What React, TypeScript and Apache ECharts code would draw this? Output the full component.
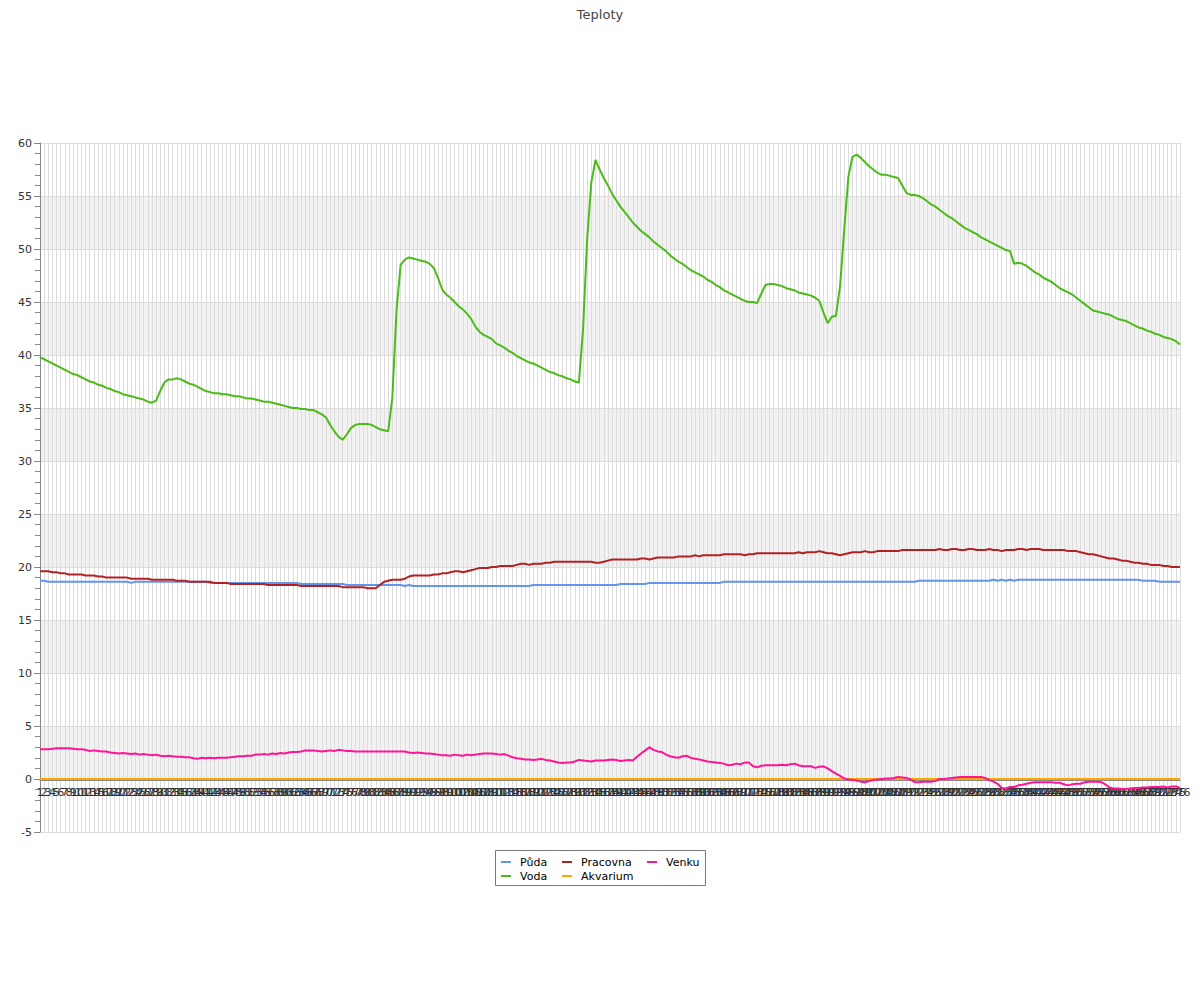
import React, { useEffect, useRef } from "react";
import * as echarts from "echarts";

const categories: string[] = Array.from({ length: 276 }, (_, i) => String(i + 1));

const puda: number[] = [
  18.7, 18.7, 18.6, 18.6, 18.6, 18.6, 18.6, 18.6, 18.6, 18.6,
  18.6, 18.6, 18.6, 18.6, 18.6, 18.6, 18.6, 18.6, 18.6, 18.6,
  18.6, 18.6, 18.5, 18.6, 18.6, 18.6, 18.6, 18.6, 18.6, 18.6,
  18.6, 18.6, 18.6, 18.6, 18.6, 18.6, 18.6, 18.6, 18.6, 18.6,
  18.6, 18.5, 18.5, 18.5, 18.5, 18.5, 18.5, 18.5, 18.5, 18.5,
  18.5, 18.5, 18.5, 18.5, 18.5, 18.5, 18.5, 18.5, 18.5, 18.5,
  18.5, 18.5, 18.5, 18.4, 18.4, 18.4, 18.4, 18.4, 18.4, 18.4,
  18.4, 18.4, 18.4, 18.4, 18.3, 18.3, 18.3, 18.3, 18.3, 18.3,
  18.3, 18.3, 18.3, 18.3, 18.3, 18.3, 18.3, 18.3, 18.2, 18.3,
  18.2, 18.2, 18.2, 18.2, 18.2, 18.2, 18.2, 18.2, 18.2, 18.2,
  18.2, 18.2, 18.2, 18.2, 18.2, 18.2, 18.2, 18.2, 18.2, 18.2,
  18.2, 18.2, 18.2, 18.2, 18.2, 18.2, 18.2, 18.2, 18.2, 18.3,
  18.3, 18.3, 18.3, 18.3, 18.3, 18.3, 18.3, 18.3, 18.3, 18.3,
  18.3, 18.3, 18.3, 18.3, 18.3, 18.3, 18.3, 18.3, 18.3, 18.3,
  18.4, 18.4, 18.4, 18.4, 18.4, 18.4, 18.4, 18.5, 18.5, 18.5,
  18.5, 18.5, 18.5, 18.5, 18.5, 18.5, 18.5, 18.5, 18.5, 18.5,
  18.5, 18.5, 18.5, 18.5, 18.5, 18.6, 18.6, 18.6, 18.6, 18.6,
  18.6, 18.6, 18.6, 18.6, 18.6, 18.6, 18.6, 18.6, 18.6, 18.6,
  18.6, 18.6, 18.6, 18.6, 18.6, 18.6, 18.6, 18.6, 18.6, 18.6,
  18.6, 18.6, 18.6, 18.6, 18.6, 18.6, 18.6, 18.6, 18.6, 18.6,
  18.6, 18.6, 18.6, 18.6, 18.6, 18.6, 18.6, 18.6, 18.6, 18.6,
  18.6, 18.6, 18.7, 18.7, 18.7, 18.7, 18.7, 18.7, 18.7, 18.7,
  18.7, 18.7, 18.7, 18.7, 18.7, 18.7, 18.7, 18.7, 18.7, 18.7,
  18.8, 18.7, 18.8, 18.7, 18.8, 18.7, 18.8, 18.8, 18.8, 18.8,
  18.8, 18.8, 18.8, 18.8, 18.8, 18.8, 18.8, 18.8, 18.8, 18.8,
  18.8, 18.8, 18.8, 18.8, 18.8, 18.8, 18.8, 18.8, 18.8, 18.8,
  18.8, 18.8, 18.8, 18.8, 18.8, 18.8, 18.7, 18.7, 18.7, 18.7,
  18.6, 18.6, 18.6, 18.6, 18.6, 18.6,
];

const voda: number[] = [
  39.8, 39.6, 39.4, 39.2, 39.0, 38.8, 38.6, 38.4, 38.2, 38.1,
  37.9, 37.7, 37.5, 37.4, 37.2, 37.1, 36.9, 36.8, 36.6, 36.5,
  36.3, 36.2, 36.1, 36.0, 35.9, 35.8, 35.6, 35.5, 35.7, 36.6,
  37.4, 37.7, 37.7, 37.8, 37.7, 37.5, 37.3, 37.2, 37.0, 36.8,
  36.6, 36.5, 36.4, 36.4, 36.3, 36.3, 36.2, 36.1, 36.1, 36.0,
  35.9, 35.9, 35.8, 35.7, 35.6, 35.6, 35.5, 35.4, 35.3, 35.2,
  35.1, 35.0, 35.0, 34.9, 34.9, 34.8, 34.8, 34.6, 34.4, 34.1,
  33.4, 32.8, 32.3, 32.0, 32.5, 33.1, 33.4, 33.5, 33.5, 33.5,
  33.4, 33.2, 33.0, 32.9, 32.8, 36.0, 44.2, 48.5, 49.0, 49.2,
  49.1, 49.0, 48.9, 48.8, 48.6, 48.2, 47.3, 46.2, 45.7, 45.4,
  45.0, 44.6, 44.3, 43.9, 43.4, 42.7, 42.2, 41.9, 41.7, 41.5,
  41.1, 40.9, 40.7, 40.4, 40.2, 39.9, 39.7, 39.5, 39.3, 39.2,
  39.0, 38.8, 38.6, 38.4, 38.3, 38.1, 38.0, 37.8, 37.7, 37.5,
  37.4, 42.4, 51.0, 56.3, 58.4, 57.5, 56.7, 56.0, 55.2, 54.6,
  54.0, 53.5, 53.0, 52.5, 52.1, 51.7, 51.4, 51.1, 50.7, 50.4,
  50.1, 49.8, 49.4, 49.1, 48.8, 48.6, 48.3, 48.0, 47.8, 47.6,
  47.4, 47.1, 46.9, 46.6, 46.4, 46.1, 45.9, 45.7, 45.5, 45.3,
  45.1, 45.0, 45.0, 44.9, 45.8, 46.6, 46.7, 46.7, 46.6, 46.5,
  46.3, 46.2, 46.1, 45.9, 45.8, 45.7, 45.6, 45.4, 45.1, 44.0,
  43.0, 43.6, 43.7, 46.5, 51.8, 56.8, 58.7, 58.9, 58.6, 58.2,
  57.8, 57.5, 57.2, 57.0, 57.0, 56.9, 56.8, 56.7, 56.0, 55.3,
  55.1, 55.1, 55.0, 54.8, 54.5, 54.2, 54.0, 53.7, 53.4, 53.1,
  52.9, 52.6, 52.3, 52.0, 51.8, 51.6, 51.4, 51.1, 50.9, 50.7,
  50.5, 50.3, 50.1, 49.9, 49.8, 48.6, 48.7, 48.6, 48.4, 48.1,
  47.8, 47.6, 47.3, 47.1, 46.9, 46.6, 46.3, 46.1, 45.9, 45.7,
  45.4, 45.1, 44.8, 44.5, 44.2, 44.1, 44.0, 43.9, 43.8, 43.6,
  43.4, 43.3, 43.2, 43.0, 42.8, 42.6, 42.5, 42.3, 42.2, 42.0,
  41.9, 41.7, 41.6, 41.5, 41.3, 41.0,
];

const pracovna: number[] = [
  19.6, 19.6, 19.6, 19.5, 19.5, 19.4, 19.4, 19.3, 19.3, 19.3,
  19.3, 19.2, 19.2, 19.2, 19.1, 19.1, 19.0, 19.0, 19.0, 19.0,
  19.0, 19.0, 18.9, 18.9, 18.9, 18.9, 18.9, 18.8, 18.8, 18.8,
  18.8, 18.8, 18.8, 18.7, 18.7, 18.7, 18.6, 18.6, 18.6, 18.6,
  18.6, 18.6, 18.5, 18.5, 18.5, 18.5, 18.4, 18.4, 18.4, 18.4,
  18.4, 18.4, 18.4, 18.4, 18.4, 18.3, 18.3, 18.3, 18.3, 18.3,
  18.3, 18.3, 18.3, 18.2, 18.2, 18.2, 18.2, 18.2, 18.2, 18.2,
  18.2, 18.2, 18.2, 18.1, 18.1, 18.1, 18.1, 18.1, 18.1, 18.0,
  18.0, 18.0, 18.3, 18.6, 18.7, 18.8, 18.8, 18.8, 18.9, 19.1,
  19.2, 19.2, 19.2, 19.2, 19.2, 19.3, 19.3, 19.4, 19.4, 19.5,
  19.6, 19.6, 19.5, 19.6, 19.7, 19.8, 19.9, 19.9, 19.9, 20.0,
  20.0, 20.1, 20.1, 20.1, 20.1, 20.2, 20.3, 20.3, 20.2, 20.3,
  20.3, 20.3, 20.4, 20.4, 20.5, 20.5, 20.5, 20.5, 20.5, 20.5,
  20.5, 20.5, 20.5, 20.5, 20.4, 20.4, 20.5, 20.6, 20.7, 20.7,
  20.7, 20.7, 20.7, 20.7, 20.7, 20.8, 20.8, 20.7, 20.8, 20.9,
  20.9, 20.9, 20.9, 20.9, 21.0, 21.0, 21.0, 21.0, 21.1, 21.0,
  21.1, 21.1, 21.1, 21.1, 21.1, 21.2, 21.2, 21.2, 21.2, 21.2,
  21.1, 21.2, 21.2, 21.3, 21.3, 21.3, 21.3, 21.3, 21.3, 21.3,
  21.3, 21.3, 21.3, 21.4, 21.3, 21.4, 21.4, 21.4, 21.5, 21.4,
  21.3, 21.3, 21.2, 21.1, 21.2, 21.3, 21.4, 21.4, 21.4, 21.5,
  21.4, 21.4, 21.5, 21.5, 21.5, 21.5, 21.5, 21.5, 21.6, 21.6,
  21.6, 21.6, 21.6, 21.6, 21.6, 21.6, 21.6, 21.7, 21.6, 21.6,
  21.7, 21.7, 21.6, 21.6, 21.7, 21.7, 21.6, 21.6, 21.6, 21.7,
  21.6, 21.6, 21.5, 21.6, 21.6, 21.6, 21.7, 21.7, 21.6, 21.7,
  21.7, 21.7, 21.6, 21.6, 21.6, 21.6, 21.6, 21.6, 21.5, 21.5,
  21.5, 21.4, 21.3, 21.2, 21.2, 21.1, 21.0, 20.9, 20.8, 20.8,
  20.7, 20.6, 20.6, 20.5, 20.4, 20.4, 20.3, 20.3, 20.2, 20.2,
  20.2, 20.1, 20.1, 20.0, 20.0, 20.0,
];

const akvarium: number[] = [
  0, 0, 0, 0, 0, 0, 0, 0, 0, 0, 0, 0, 0, 0, 0, 0, 0, 0, 0, 0,
  0, 0, 0, 0, 0, 0, 0, 0, 0, 0, 0, 0, 0, 0, 0, 0, 0, 0, 0, 0,
  0, 0, 0, 0, 0, 0, 0, 0, 0, 0, 0, 0, 0, 0, 0, 0, 0, 0, 0, 0,
  0, 0, 0, 0, 0, 0, 0, 0, 0, 0, 0, 0, 0, 0, 0, 0, 0, 0, 0, 0,
  0, 0, 0, 0, 0, 0, 0, 0, 0, 0, 0, 0, 0, 0, 0, 0, 0, 0, 0, 0,
  0, 0, 0, 0, 0, 0, 0, 0, 0, 0, 0, 0, 0, 0, 0, 0, 0, 0, 0, 0,
  0, 0, 0, 0, 0, 0, 0, 0, 0, 0, 0, 0, 0, 0, 0, 0, 0, 0, 0, 0,
  0, 0, 0, 0, 0, 0, 0, 0, 0, 0, 0, 0, 0, 0, 0, 0, 0, 0, 0, 0,
  0, 0, 0, 0, 0, 0, 0, 0, 0, 0, 0, 0, 0, 0, 0, 0, 0, 0, 0, 0,
  0, 0, 0, 0, 0, 0, 0, 0, 0, 0, 0, 0, 0, 0, 0, 0, 0, 0, 0, 0,
  0, 0, 0, 0, 0, 0, 0, 0, 0, 0, 0, 0, 0, 0, 0, 0, 0, 0, 0, 0,
  0, 0, 0, 0, 0, 0, 0, 0, 0, 0, 0, 0, 0, 0, 0, 0, 0, 0, 0, 0,
  0, 0, 0, 0, 0, 0, 0, 0, 0, 0, 0, 0, 0, 0, 0, 0, 0, 0, 0, 0,
  0, 0, 0, 0, 0, 0, 0, 0, 0, 0, 0, 0, 0, 0, 0, 0,
];

const venku: number[] = [
  2.8, 2.8, 2.8, 2.85, 2.9, 2.9, 2.9, 2.9, 2.85, 2.8,
  2.8, 2.75, 2.65, 2.7, 2.65, 2.6, 2.6, 2.5, 2.45, 2.4,
  2.45, 2.4, 2.35, 2.4, 2.3, 2.35, 2.3, 2.25, 2.3, 2.2,
  2.15, 2.2, 2.15, 2.1, 2.1, 2.05, 2.05, 1.95, 1.9, 2.0,
  1.95, 2.0, 1.95, 2.0, 2.0, 2.0, 2.05, 2.1, 2.15, 2.15,
  2.2, 2.2, 2.3, 2.3, 2.35, 2.3, 2.4, 2.35, 2.45, 2.4,
  2.5, 2.55, 2.55, 2.6, 2.7, 2.7, 2.7, 2.65, 2.6, 2.65,
  2.7, 2.65, 2.75, 2.7, 2.65, 2.65, 2.6, 2.6, 2.6, 2.6,
  2.6, 2.6, 2.6, 2.6, 2.6, 2.6, 2.6, 2.6, 2.6, 2.5,
  2.45, 2.5, 2.45, 2.4, 2.4, 2.35, 2.3, 2.25, 2.25, 2.2,
  2.3, 2.25, 2.2, 2.3, 2.25, 2.3, 2.35, 2.4, 2.4, 2.4,
  2.35, 2.3, 2.35, 2.2, 2.05, 1.95, 1.9, 1.85, 1.85, 1.8,
  1.85, 1.9, 1.8, 1.75, 1.65, 1.55, 1.5, 1.55, 1.55, 1.65,
  1.8, 1.75, 1.7, 1.65, 1.75, 1.75, 1.75, 1.8, 1.85, 1.8,
  1.7, 1.75, 1.8, 1.75, 2.1, 2.4, 2.7, 3.0, 2.75, 2.6,
  2.55, 2.3, 2.15, 2.05, 2.0, 2.15, 2.2, 2.0, 1.9, 1.85,
  1.75, 1.65, 1.6, 1.55, 1.5, 1.45, 1.3, 1.35, 1.45, 1.4,
  1.55, 1.55, 1.2, 1.1, 1.25, 1.3, 1.3, 1.3, 1.3, 1.35,
  1.3, 1.4, 1.45, 1.3, 1.2, 1.2, 1.2, 1.05, 1.15, 1.2,
  1.0, 0.75, 0.5, 0.3, 0.05, -0.05, -0.1, -0.15, -0.25, -0.3,
  -0.2, -0.1, -0.05, 0.0, 0.05, 0.05, 0.1, 0.2, 0.15, 0.1,
  -0.05, -0.3, -0.3, -0.25, -0.25, -0.25, -0.2, 0.0, 0.0, 0.05,
  0.1, 0.15, 0.2, 0.2, 0.2, 0.2, 0.2, 0.2, 0.1, -0.1,
  -0.25, -0.45, -0.85, -0.9, -0.75, -0.75, -0.6, -0.55, -0.45, -0.35,
  -0.3, -0.3, -0.3, -0.3, -0.3, -0.35, -0.35, -0.5, -0.6, -0.5,
  -0.45, -0.45, -0.3, -0.25, -0.25, -0.25, -0.3, -0.5, -0.8, -0.9,
  -0.9, -0.95, -0.95, -0.9, -0.85, -0.85, -0.8, -0.8, -0.75, -0.75,
  -0.75, -0.7, -0.8, -0.7, -0.7, -0.85,
];

const seriesNames = ["Půda", "Voda", "Pracovna", "Akvarium", "Venku"];
const seriesColors = ["#6495ed", "#4cbb17", "#b22222", "#ffa500", "#ff1493"];
const seriesData = [puda, voda, pracovna, akvarium, venku];

const FONT = "DejaVu Sans";

export default function App() {
  const ref = useRef<HTMLDivElement>(null);
  useEffect(() => {
    if (!ref.current) return;
    const chart = echarts.init(ref.current, null, { renderer: "svg" });
    const legendBase = {
      orient: "vertical" as const,
      top: 855,
      padding: 0,
      itemGap: 0,
      itemWidth: 10,
      itemHeight: 2,
      icon: "rect",
      selectedMode: false,
      textStyle: {
        fontFamily: FONT,
        fontSize: 11,
        color: "#000",
        lineHeight: 14,
        padding: [0, 0, 0, 4],
      },
    };
    chart.setOption({
      animation: false,
      backgroundColor: "#fff",
      textStyle: { fontFamily: FONT },
      title: {
        text: "Teploty",
        left: "center",
        top: 3,
        textStyle: { fontFamily: FONT, fontSize: 13, fontWeight: "normal", color: "#444" },
      },
      color: seriesColors,
      legend: [
        { ...legendBase, left: 501, data: ["Půda", "Voda"] },
        { ...legendBase, left: 562, data: ["Pracovna", "Akvarium"] },
        { ...legendBase, left: 647, data: ["Venku"] },
      ],
      graphic: [
        {
          type: "rect",
          shape: { x: 495.5, y: 850.5, width: 210, height: 35 },
          style: { fill: "none", stroke: "#777", lineWidth: 1 },
          silent: true,
        },
      ],
      grid: { left: 40, right: 20, top: 143, bottom: 168, containLabel: false },
      xAxis: {
        type: "category",
        data: categories,
        boundaryGap: false,
        position: "bottom",
        offset: -52,
        axisLine: { show: true, onZero: false, lineStyle: { color: "#888", width: 1 } },
        axisTick: { show: false },
        axisLabel: {
          interval: 0,
          fontFamily: FONT,
          fontSize: 11,
          color: "#333",
          margin: 7,
        },
        splitLine: { show: true, interval: 0, lineStyle: { color: "#ddd", width: 1 } },
      },
      yAxis: {
        type: "value",
        min: -5,
        max: 60,
        interval: 5,
        axisLine: { show: true, lineStyle: { color: "#888", width: 1 } },
        axisTick: { show: true, length: 6, lineStyle: { color: "#888" } },
        minorTick: { show: true, splitNumber: 5, length: 5, lineStyle: { color: "#888" } },
        axisLabel: { fontFamily: FONT, fontSize: 11, color: "#333", margin: 8 },
        splitLine: { show: true, lineStyle: { color: "#ddd", width: 1 } },
        splitArea: { show: true, areaStyle: { color: ["rgba(255,255,255,0)", "#f2f2f2"] } },
      },
      series: seriesNames.map((name, k) => ({
        name,
        type: "line",
        data: seriesData[k],
        showSymbol: false,
        symbol: "none",
        lineStyle: { color: seriesColors[k], width: 2 },
        itemStyle: { color: seriesColors[k] },
      })),
    });
    return () => chart.dispose();
  }, []);
  return (
    <div
      ref={ref}
      style={{ position: "absolute", left: 0, top: 0, width: 1200, height: 1000 }}
    />
  );
}
